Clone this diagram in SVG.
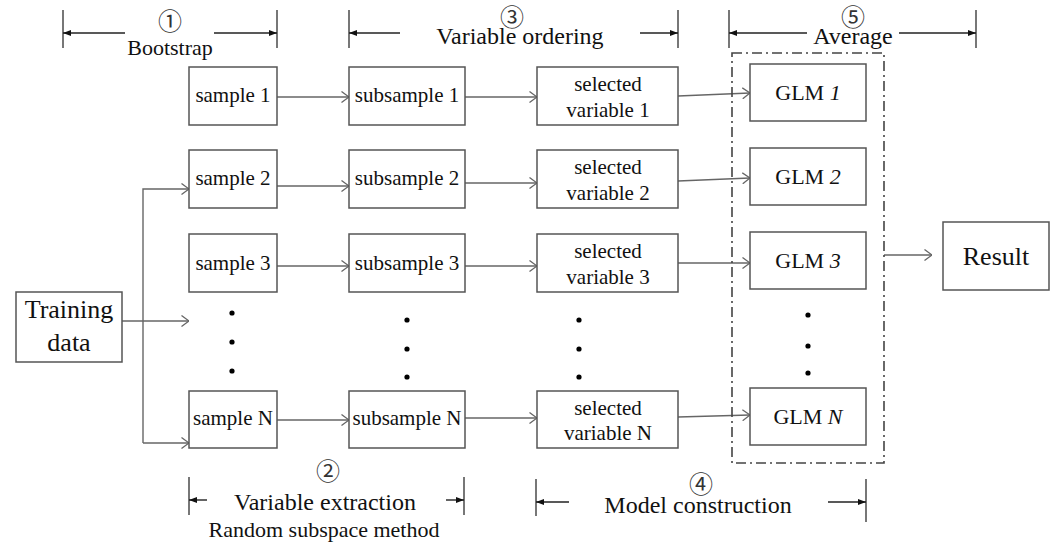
<svg xmlns="http://www.w3.org/2000/svg" width="1054" height="542" viewBox="0 0 1054 542">
<style>
.box{fill:#fff;stroke:#555;stroke-width:1.5}
.t{font-family:'Liberation Serif','Times New Roman','DejaVu Serif',serif;fill:#111;text-anchor:middle}
.bt{font-size:21px}
.lt{font-size:24px}
.big{font-size:26px}
.cn{font-family:'Noto Sans CJK SC','DejaVu Sans',sans-serif;font-size:24px;fill:#333;text-anchor:middle}
.con{fill:none;stroke:#666;stroke-width:1.4;marker-end:url(#open)}
.tick{stroke:#555;stroke-width:1.6}
.dim{stroke:#222;stroke-width:1.4;marker-end:url(#fill)}
.dot{fill:#000}
</style>
<defs>
<marker id="open" viewBox="0 0 8 12" refX="8" refY="6" markerWidth="8" markerHeight="12" markerUnits="userSpaceOnUse" orient="auto">
<path d="M0.5,0.5 L8,6 L0.5,11.5" fill="none" stroke="#666" stroke-width="1.3"/>
</marker>
<marker id="fill" viewBox="0 0 8 6" refX="8" refY="3" markerWidth="8" markerHeight="6" markerUnits="userSpaceOnUse" orient="auto">
<path d="M0,0 L8,3 L0,6 z" fill="#111"/>
</marker>
</defs>

<g id="dimensions" font-family="Liberation Serif, Times New Roman, serif">
<line class="tick" x1="63" y1="10" x2="63" y2="48"/>
<line class="tick" x1="277" y1="10" x2="277" y2="48"/>
<line class="dim" x1="125" y1="33" x2="63" y2="33"/>
<line class="dim" x1="214" y1="33" x2="277" y2="33"/>
<text class="cn" x="170" y="30">①</text>
<text class="t" x="170" y="55" font-size="22">Bootstrap</text>

<line class="tick" x1="349" y1="10" x2="349" y2="48"/>
<line class="tick" x1="678" y1="10" x2="678" y2="48"/>
<line class="dim" x1="400" y1="33" x2="349" y2="33"/>
<line class="dim" x1="640" y1="33" x2="678" y2="33"/>
<text class="cn" x="512" y="26">③</text>
<text class="t lt" x="520" y="44">Variable ordering</text>

<line class="tick" x1="729" y1="10" x2="729" y2="48"/>
<line class="tick" x1="976" y1="10" x2="976" y2="48"/>
<line class="dim" x1="807" y1="33" x2="729" y2="33"/>
<line class="dim" x1="899" y1="33" x2="976" y2="33"/>
<text class="cn" x="853" y="26">⑤</text>
<text class="t lt" x="853" y="44">Average</text>

<line class="tick" x1="189" y1="477" x2="189" y2="515"/>
<line class="tick" x1="464" y1="477" x2="464" y2="515"/>
<line class="dim" x1="207" y1="500" x2="189" y2="500"/>
<line class="dim" x1="446" y1="500" x2="464" y2="500"/>
<text class="cn" x="328" y="480">②</text>
<text class="t lt" x="325" y="510">Variable extraction</text>
<text class="t" x="324" y="537" font-size="22">Random subspace method</text>

<line class="tick" x1="536" y1="479" x2="536" y2="516"/>
<line class="tick" x1="866" y1="479" x2="866" y2="522"/>
<line class="dim" x1="569" y1="502" x2="536" y2="502"/>
<line class="dim" x1="828" y1="502" x2="866" y2="502"/>
<text class="cn" x="701" y="493">④</text>
<text class="t lt" x="698" y="513">Model construction</text>
</g>

<g id="connectors">
<path class="con" d="M122,321 L189,321"/>
<path class="con" d="M143,443 L143,189 L189,189"/>
<path class="con" d="M143,443 L189,443"/>
<path class="con" d="M277,97 L349,97"/>
<path class="con" d="M277,186 L349,186"/>
<path class="con" d="M277,266 L349,266"/>
<path class="con" d="M277,420 L349,420"/>
<path class="con" d="M465,97 L537,97"/>
<path class="con" d="M465,183 L537,183"/>
<path class="con" d="M465,266 L537,266"/>
<path class="con" d="M465,418 L537,418"/>
<path class="con" d="M678,96 L750,93"/>
<path class="con" d="M678,181 L750,178"/>
<path class="con" d="M678,263 L750,263"/>
<path class="con" d="M678,417 L750,415"/>
<path class="con" d="M884,255 L932,255"/>
</g>

<g id="average-group">
<rect x="732" y="53" width="152" height="410" fill="none" stroke="#444" stroke-width="1.6" stroke-dasharray="10,4,2,4"/>
</g>

<g id="training-data">
<rect class="box" x="16" y="292" width="106" height="70"/>
<text class="t big" x="69" y="318">Training</text>
<text class="t big" x="69" y="351">data</text>
</g>

<g id="sample-1"><rect class="box" x="189" y="67" width="88" height="58"/><text class="t bt" x="233" y="102">sample 1</text></g>
<g id="sample-2"><rect class="box" x="189" y="150" width="88" height="58"/><text class="t bt" x="233" y="185">sample 2</text></g>
<g id="sample-3"><rect class="box" x="189" y="234" width="88" height="58"/><text class="t bt" x="233" y="270">sample 3</text></g>
<g id="sample-N"><rect class="box" x="189" y="391" width="88" height="57"/><text class="t bt" x="233" y="425">sample N</text></g>

<g id="subsample-1"><rect class="box" x="349" y="67" width="116" height="58"/><text class="t bt" x="407" y="102">subsample 1</text></g>
<g id="subsample-2"><rect class="box" x="349" y="150" width="116" height="58"/><text class="t bt" x="407" y="185">subsample 2</text></g>
<g id="subsample-3"><rect class="box" x="349" y="234" width="116" height="58"/><text class="t bt" x="407" y="270">subsample 3</text></g>
<g id="subsample-N"><rect class="box" x="349" y="391" width="116" height="57"/><text class="t bt" x="407" y="425">subsample N</text></g>

<g id="selected-1"><rect class="box" x="537" y="67" width="141" height="58"/><text class="t bt" x="608" y="91">selected</text><text class="t bt" x="608" y="117">variable 1</text></g>
<g id="selected-2"><rect class="box" x="537" y="150" width="141" height="58"/><text class="t bt" x="608" y="174">selected</text><text class="t bt" x="608" y="200">variable 2</text></g>
<g id="selected-3"><rect class="box" x="537" y="234" width="141" height="58"/><text class="t bt" x="608" y="258">selected</text><text class="t bt" x="608" y="284">variable 3</text></g>
<g id="selected-N"><rect class="box" x="537" y="391" width="141" height="57"/><text class="t bt" x="608" y="415">selected</text><text class="t bt" x="608" y="440">variable N</text></g>

<g id="glm-1"><rect class="box" x="750" y="64" width="116" height="57"/><text class="t" font-size="22" x="808" y="100">GLM <tspan font-style="italic">1</tspan></text></g>
<g id="glm-2"><rect class="box" x="750" y="148" width="116" height="57"/><text class="t" font-size="22" x="808" y="184">GLM <tspan font-style="italic">2</tspan></text></g>
<g id="glm-3"><rect class="box" x="750" y="232" width="116" height="57"/><text class="t" font-size="22" x="808" y="268">GLM <tspan font-style="italic">3</tspan></text></g>
<g id="glm-N"><rect class="box" x="750" y="388" width="116" height="57"/><text class="t" font-size="22" x="808" y="424">GLM <tspan font-style="italic">N</tspan></text></g>

<g id="result"><rect class="box" x="943" y="222" width="106" height="68"/><text class="t big" x="996" y="265">Result</text></g>

<g id="ellipses">
<circle class="dot" cx="232" cy="313" r="2.6"/><circle class="dot" cx="232" cy="342" r="2.6"/><circle class="dot" cx="232" cy="371" r="2.6"/>
<circle class="dot" cx="407" cy="320" r="2.6"/><circle class="dot" cx="407" cy="349" r="2.6"/><circle class="dot" cx="407" cy="377" r="2.6"/>
<circle class="dot" cx="579" cy="320" r="2.6"/><circle class="dot" cx="579" cy="349" r="2.6"/><circle class="dot" cx="579" cy="377" r="2.6"/>
<circle class="dot" cx="808" cy="315" r="2.6"/><circle class="dot" cx="808" cy="346" r="2.6"/><circle class="dot" cx="808" cy="373" r="2.6"/>
</g>
</svg>
